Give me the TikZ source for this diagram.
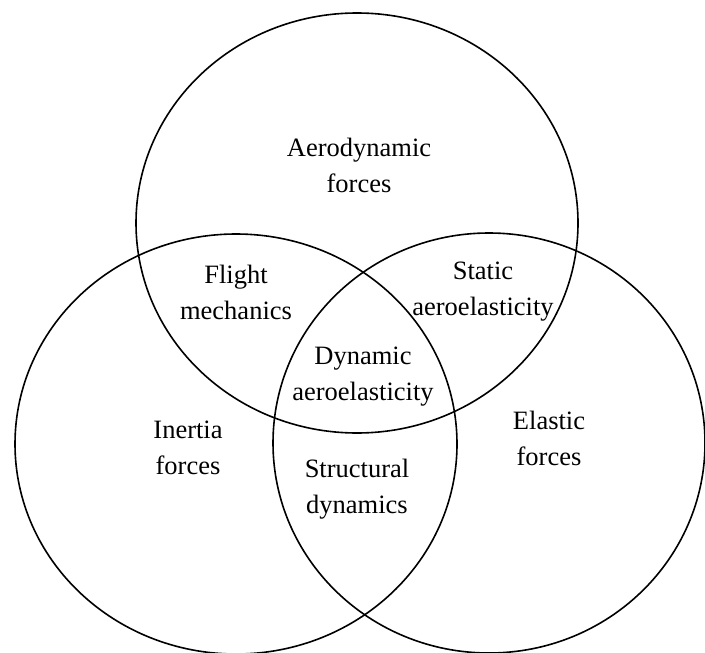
\documentclass[tikz,border=0pt]{standalone}
\usepackage{fontspec}
\setmainfont{Liberation Serif}
\newfontfamily\termsfont{Liberation Serif}
\usepackage{tikz}
\usetikzlibrary{positioning}
\newcommand{\regionfont}{\termsfont\fontsize{13.25}{18}\selectfont}
\tikzset{
  % One set of the diagram
  setring/.style={draw=black, line width=0.8pt},
  % A label in a region
  region/.style={align=center, font=\regionfont, inner sep=0pt},
}

\begin{document}
\begin{tikzpicture}[x=0.5pt, y=-0.5pt]

  \useasboundingbox (0,0) rectangle (705,652);

  \coordinate (aero) at (357,223);
  \coordinate (inert) at (236,444);
  \coordinate (elast) at (489,443);

  \draw[setring] (aero)  ellipse [x radius=110.5pt, y radius=105pt];
  \draw[setring] (inert) ellipse [x radius=110.5pt, y radius=105pt];
  \draw[setring] (elast) ellipse [x radius=108pt,   y radius=105pt];

  \node[region] (aerof)   at (359,165) {Aerodynamic\\forces};
  \node[region] (flight)  at (236,292) {Flight\\mechanics};
  \node[region] (static)  at (483,292) {Static\\aeroelasticity};
  \node[region] (dynaero) at (363,377) {Dynamic\\aeroelasticity};
  \node[region] (inertf)  at (188,448) {Inertia\\forces};
  \node[region] (structd) at (357,489) {Structural\\dynamics};
  \node[region] (elastf)  at (549,438) {Elastic\\forces};

\end{tikzpicture}
\end{document}
